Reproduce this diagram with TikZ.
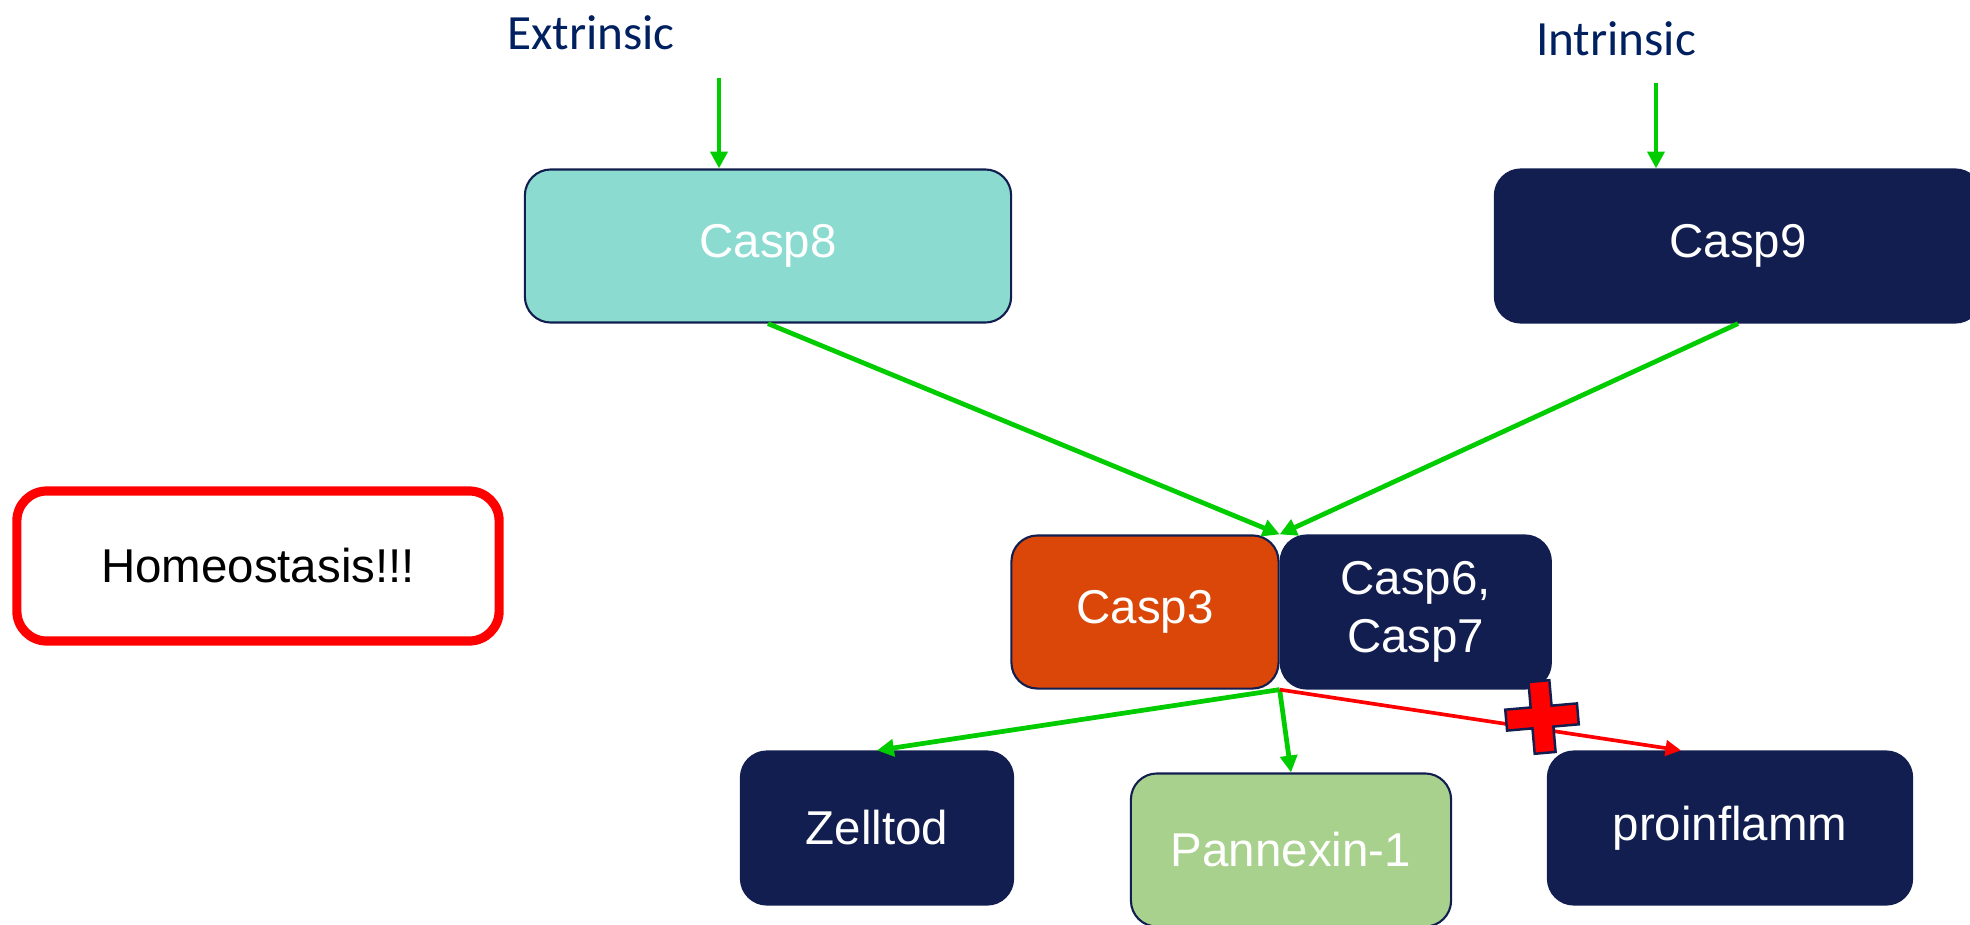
\documentclass[tikz,border=0pt]{standalone}
\usepackage{fontspec}
\setmainfont{Liberation Sans}
\newfontfamily\calibri{Carlito}
\usepackage{xcolor}
\usepackage{tikz}
\usetikzlibrary{arrows.meta, positioning}
\definecolor{navy}{HTML}{121E4F}
\definecolor{teal8}{HTML}{8BDBD0}
\definecolor{orange3}{HTML}{DA4709}
\definecolor{panxgreen}{HTML}{A9D18E}
\definecolor{arrowgreen}{HTML}{00CC00}
\definecolor{labelblue}{HTML}{002060}
\tikzstyle{casp} = [rectangle, rounded corners=0.26cm, draw=navy, line width=0.6pt, fill=navy, text=white, font=\fontsize{13.5}{16.5}\selectfont, align=center, minimum height=1.53cm, inner sep=0pt]
\tikzstyle{pathway} = [font=\calibri\fontsize{14}{16}\selectfont, text=labelblue]
\tikzstyle{alert} = [rectangle, rounded corners=0.3cm, draw=red, line width=2.6pt, fill=white, font=\fontsize{13.5}{16.5}\selectfont, minimum width=4.82cm, minimum height=1.5cm]
\tikzstyle{arrow} = [-{Triangle[length=4.8pt, width=4.8pt]}, line width=1.35pt, draw=arrowgreen]
\tikzstyle{blockedarrow} = [-{Triangle[length=4.4pt, width=4.4pt]}, line width=1.05pt, draw=red]
\tikzstyle{crossmark} = [fill=red, draw=navy, line width=0.7pt]

\begin{document}
\begin{tikzpicture}[x=0.01cm, y=-0.01cm]
    \useasboundingbox (0,0) rectangle (1970,924);

    % === ROW 1: pathways ===
    \node[pathway] (extr) at (591,33) {Extrinsic};
    \node[pathway] (intr) at (1616,39) {Intrinsic};
    \coordinate (extrin) at (719,78);
    \coordinate (intrin) at (1656,83);

    % === ROW 2: initiator caspases ===
    \node[casp, fill=teal8, minimum width=4.86cm] (casp8) at (768,246) {Casp8};
    \node[casp, minimum width=4.86cm] (casp9) at (1738,246) {Casp9};

    % === side note ===
    \node[alert] (homeo) at (258,566) {Homeostasis!!!};

    % === ROW 3: executioner caspases ===
    \node[casp, fill=orange3, minimum width=2.67cm] (casp3) at (1145,612) {Casp3};
    \node[casp, minimum width=2.70cm, right=0pt of casp3] (casp67) {Casp6,\\Casp7};

    % === ROW 4: outcomes ===
    \node[casp, minimum width=2.72cm] (zelltod) at (877,828) {Zelltod};
    \node[casp, fill=panxgreen, minimum width=3.20cm] (panx) at (1291,850) {Pannexin-1};
    \node[casp, minimum width=3.64cm] (proinfl) at (1730,828) {proinflamm};

    % ===== ARROWS =====
    % Pathways -> initiators
    \draw[arrow] (extrin) -- (extrin |- casp8.north);
    \draw[arrow] (intrin) -- (intrin |- casp9.north);

    % Initiators -> Casp3 / Casp6,7
    \draw[arrow] (casp8.south) -- (casp3.north east);
    \draw[arrow] (casp9.south) -- (casp3.north east);

    % Executioners -> outcomes
    \draw[arrow] (casp3.south east) -- (zelltod.north);
    \draw[arrow] (casp3.south east) -- (panx.north);
    \draw[blockedarrow] (casp3.south east) -- ([xshift=-0.49cm]proinfl.north);

    % blocked (red cross on top)
    \draw[crossmark, shift={(1542,717)}, rotate=5]
        (-10.5,-36) -- (10.5,-36) -- (10.5,-10.5) -- (36,-10.5) -- (36,10.5) -- (10.5,10.5)
        -- (10.5,36) -- (-10.5,36) -- (-10.5,10.5) -- (-36,10.5) -- (-36,-10.5) -- (-10.5,-10.5) -- cycle;
\end{tikzpicture}
\end{document}
